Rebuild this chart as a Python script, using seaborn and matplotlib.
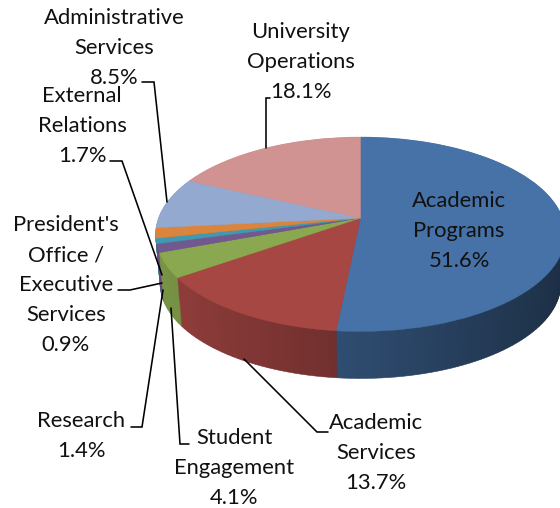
import numpy as np
import matplotlib
matplotlib.use('Agg')
import matplotlib.pyplot as plt
import matplotlib.transforms as mtransforms
import seaborn as sns

# data
categories = ['Academic\nPrograms', 'Academic\nServices', 'Student\nEngagement', 'Research',
              "President's\nOffice /\nExecutive\nServices", 'External\nRelations',
              'Administrative\nServices', 'University\nOperations']
values = [51.6, 13.7, 4.1, 1.4, 0.9, 1.7, 8.5, 18.1]
top_colors = ['#4672a8', '#a74744', '#8aa84f', '#71588f', '#4198af', '#db843d', '#93a9cf', '#d19392']

# label centres in pixels
label_x = [459, 376, 234, 81, 66, 82, 114, 301]
label_y = [231, 453, 468, 436, 285, 126, 48, 62]

# leader lines in pixels (none for the first label, it sits on the slice)
leaders = [
    None,
    [(328, 432), (317, 432), (244, 359)],
    [(189, 444), (180, 444), (171, 308)],
    [(131, 427), (142, 427), (163, 290)],
    [(118, 290), (130, 290), (162, 283)],
    [(110, 161), (122, 161), (162, 275)],
    [(142, 82), (154, 82), (167, 202)],
    [(270, 98), (266, 98), (266, 148)],
]

sns.set_theme(style='white')
plt.rcParams['font.family'] = ['Lato', 'DejaVu Sans']

W, H = 560, 508
DEPTH = 49.5


class PieProjection(mtransforms.Transform):
    # tilted disc with a bit of perspective, unit circle -> pixels (y down)
    # lower layers shrink a little, so the far left of the rim stays hidden
    input_dims = 2
    output_dims = 2
    has_inverse = False

    def __init__(self, drop=0):
        super().__init__()
        self.drop = drop

    def transform_non_affine(self, pts):
        pts = np.asarray(pts, dtype=float)
        w = 1 + 0.167 * pts[:, 1]
        s = 1 - 0.022 * self.drop / DEPTH
        x = 360.5 + 202 * s * pts[:, 0] / w
        y = 218 - 94.5 * s * pts[:, 1] / w + self.drop
        return np.column_stack([x, y])


fig = plt.figure(figsize=(W / 100, H / 100), dpi=100, facecolor='white')
ax = fig.add_axes([0, 0, 1, 1])

# side wall: thin slices so the shade can change along the rim
side_vals, side_cols = [], []
pos = 0.0
for v, c in zip(values, top_colors):
    n = int(np.ceil(v / 0.5))
    for i in range(n):
        mid = pos + (i + 0.5) * v / n
        u = np.cos(np.radians(90 - mid * 3.6))
        shade = 0.65 - 0.25 * u
        side_vals.append(v / n)
        side_cols.append(tuple(np.array(matplotlib.colors.to_rgb(c)) * shade))
    pos += v

for d in np.arange(DEPTH, 0, -1.0):
    wedges, _ = ax.pie(side_vals, colors=side_cols, startangle=90, counterclock=False)
    for w, c in zip(wedges, side_cols):
        w.set_transform(PieProjection(d) + ax.transData)
        w.set_edgecolor(c)
        w.set_linewidth(0.4)

# top of the pie
wedges, _ = ax.pie(values, colors=top_colors, startangle=90, counterclock=False)
for w, c in zip(wedges, top_colors):
    w.set_transform(PieProjection(0) + ax.transData)
    w.set_edgecolor(c)
    w.set_linewidth(0.3)

ax.set_aspect('auto')
ax.set_xlim(0, W)
ax.set_ylim(H, 0)
ax.axis('off')

for line in leaders:
    if line is None:
        continue
    xs, ys = zip(*line)
    ax.plot(xs, ys, color='black', lw=1.15, solid_joinstyle='miter', zorder=3)

for name, v, x, y in zip(categories, values, label_x, label_y):
    ax.text(x, y, f'{name}\n{v:.1f}%', ha='center', va='center', fontsize=15.8,
            linespacing=1.62, color='#111111', zorder=4)

fig.savefig('out.png', dpi=100)
